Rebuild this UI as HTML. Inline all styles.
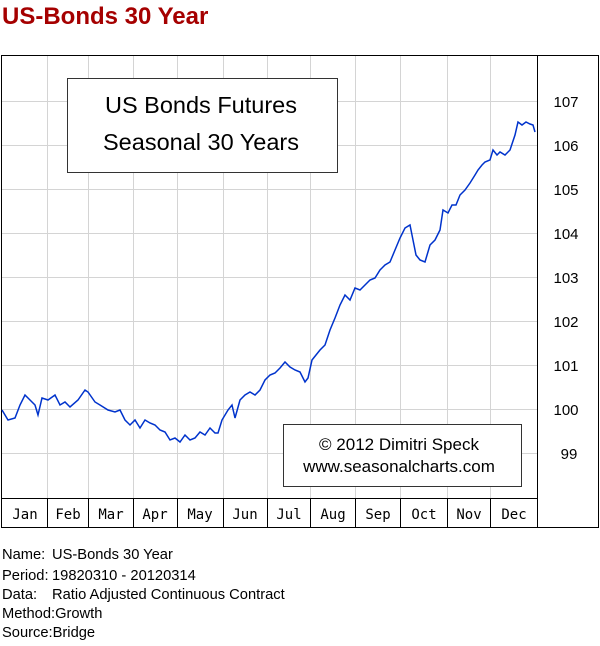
<!DOCTYPE html>
<html><head><meta charset="utf-8"><style>
body{margin:0;background:#fff;width:600px;height:646px;overflow:hidden}
svg{display:block}
</style></head><body>
<svg width="600" height="646" xmlns="http://www.w3.org/2000/svg" font-family="Liberation Sans, sans-serif">
<text x="2" y="24" font-size="24" font-weight="bold" fill="#a50000">US-Bonds 30 Year</text>
<g stroke="#d4d4d4" stroke-width="1">
<line x1="47.5" y1="55" x2="47.5" y2="498"/><line x1="88.5" y1="55" x2="88.5" y2="498"/><line x1="133.5" y1="55" x2="133.5" y2="498"/><line x1="177.5" y1="55" x2="177.5" y2="498"/><line x1="223.5" y1="55" x2="223.5" y2="498"/><line x1="267.5" y1="55" x2="267.5" y2="498"/><line x1="310.5" y1="55" x2="310.5" y2="498"/><line x1="355.5" y1="55" x2="355.5" y2="498"/><line x1="400.5" y1="55" x2="400.5" y2="498"/><line x1="447.5" y1="55" x2="447.5" y2="498"/><line x1="490.5" y1="55" x2="490.5" y2="498"/>
<line x1="2" y1="101.5" x2="537" y2="101.5"/><line x1="2" y1="145.5" x2="537" y2="145.5"/><line x1="2" y1="189.5" x2="537" y2="189.5"/><line x1="2" y1="233.5" x2="537" y2="233.5"/><line x1="2" y1="277.5" x2="537" y2="277.5"/><line x1="2" y1="321.5" x2="537" y2="321.5"/><line x1="2" y1="365.5" x2="537" y2="365.5"/><line x1="2" y1="409.5" x2="537" y2="409.5"/><line x1="2" y1="453.5" x2="537" y2="453.5"/>
</g>
<rect x="1.5" y="55.5" width="597" height="472" fill="none" stroke="#000"/>
<line x1="537.5" y1="55" x2="537.5" y2="528" stroke="#000"/>
<line x1="2" y1="498.5" x2="537" y2="498.5" stroke="#000"/>
<g stroke="#000"><line x1="47.5" y1="498" x2="47.5" y2="528"/><line x1="88.5" y1="498" x2="88.5" y2="528"/><line x1="133.5" y1="498" x2="133.5" y2="528"/><line x1="177.5" y1="498" x2="177.5" y2="528"/><line x1="223.5" y1="498" x2="223.5" y2="528"/><line x1="267.5" y1="498" x2="267.5" y2="528"/><line x1="310.5" y1="498" x2="310.5" y2="528"/><line x1="355.5" y1="498" x2="355.5" y2="528"/><line x1="400.5" y1="498" x2="400.5" y2="528"/><line x1="447.5" y1="498" x2="447.5" y2="528"/><line x1="490.5" y1="498" x2="490.5" y2="528"/></g>
<g font-family="DejaVu Sans Mono, Liberation Mono, monospace" font-size="14" text-anchor="middle" fill="#000">
<text x="25" y="519">Jan</text><text x="68" y="519">Feb</text><text x="111" y="519">Mar</text><text x="155" y="519">Apr</text><text x="200" y="519">May</text><text x="245" y="519">Jun</text><text x="289" y="519">Jul</text><text x="333" y="519">Aug</text><text x="378" y="519">Sep</text><text x="424" y="519">Oct</text><text x="469" y="519">Nov</text><text x="514" y="519">Dec</text>
</g>
<g font-size="15" text-anchor="middle" fill="#000">
<text x="566" y="107">107</text><text x="566" y="151">106</text><text x="566" y="195">105</text><text x="566" y="239">104</text><text x="566" y="283">103</text><text x="566" y="327">102</text><text x="566" y="371">101</text><text x="566" y="415">100</text><text x="569" y="459">99</text>
</g>
<rect x="67.5" y="78.5" width="270" height="94" fill="#fff" stroke="#333"/>
<text x="201" y="113" font-size="23.5" text-anchor="middle">US Bonds Futures</text>
<text x="201" y="150" font-size="23.5" text-anchor="middle">Seasonal 30 Years</text>
<rect x="283.5" y="424.5" width="238" height="62" fill="#fff" stroke="#333"/>
<text x="399" y="450" font-size="17" text-anchor="middle">© 2012  Dimitri Speck</text>
<text x="399" y="472" font-size="17" text-anchor="middle">www.seasonalcharts.com</text>
<polyline fill="none" stroke="#0033cc" stroke-width="1.5" points="2,410 8,420 15,418 20,405 25,395 30,400 35,405 38,415 42,398 48,400 55,395 60,405 65,402 70,407 78,400 85,390 88,392 95,402 100,405 108,410 115,412 120,410 125,420 130,425 135,420 140,428 145,420 150,423 155,425 160,430 165,432 170,440 175,438 180,442 185,435 190,440 195,438 200,432 205,435 210,428 215,433 218,433 222,420 228,410 232,405 235,418 240,400 245,395 250,392 255,395 260,390 265,380 270,375 275,373 280,368 285,362 290,367 295,370 300,372 305,382 308,378 312,360 316,355 320,350 325,345 330,330 335,318 340,305 345,295 350,300 355,288 360,290 365,285 370,280 375,278 380,270 385,265 390,262 395,250 400,238 405,228 410,225 413,240 416,255 420,260 425,262 430,245 435,240 440,230 443,210 448,213 452,205 456,205 460,195 465,190 470,183 475,175 478,170 482,165 485,162 490,160 493,150 497,155 500,152 505,155 510,150 515,135 518,122 522,125 526,122 530,124 533,125 535,132"/>
<g font-size="14.7" fill="#000">
<text x="2" y="559">Name:</text><text x="52" y="559">US-Bonds 30 Year</text>
<text x="2" y="580">Period:</text><text x="52" y="580">19820310 - 20120314</text>
<text x="2" y="599">Data:</text><text x="52" y="599">Ratio Adjusted Continuous Contract</text>
<text x="2" y="618">Method:Growth</text>
<text x="2" y="637">Source:Bridge</text>
</g>
</svg>
</body></html>
